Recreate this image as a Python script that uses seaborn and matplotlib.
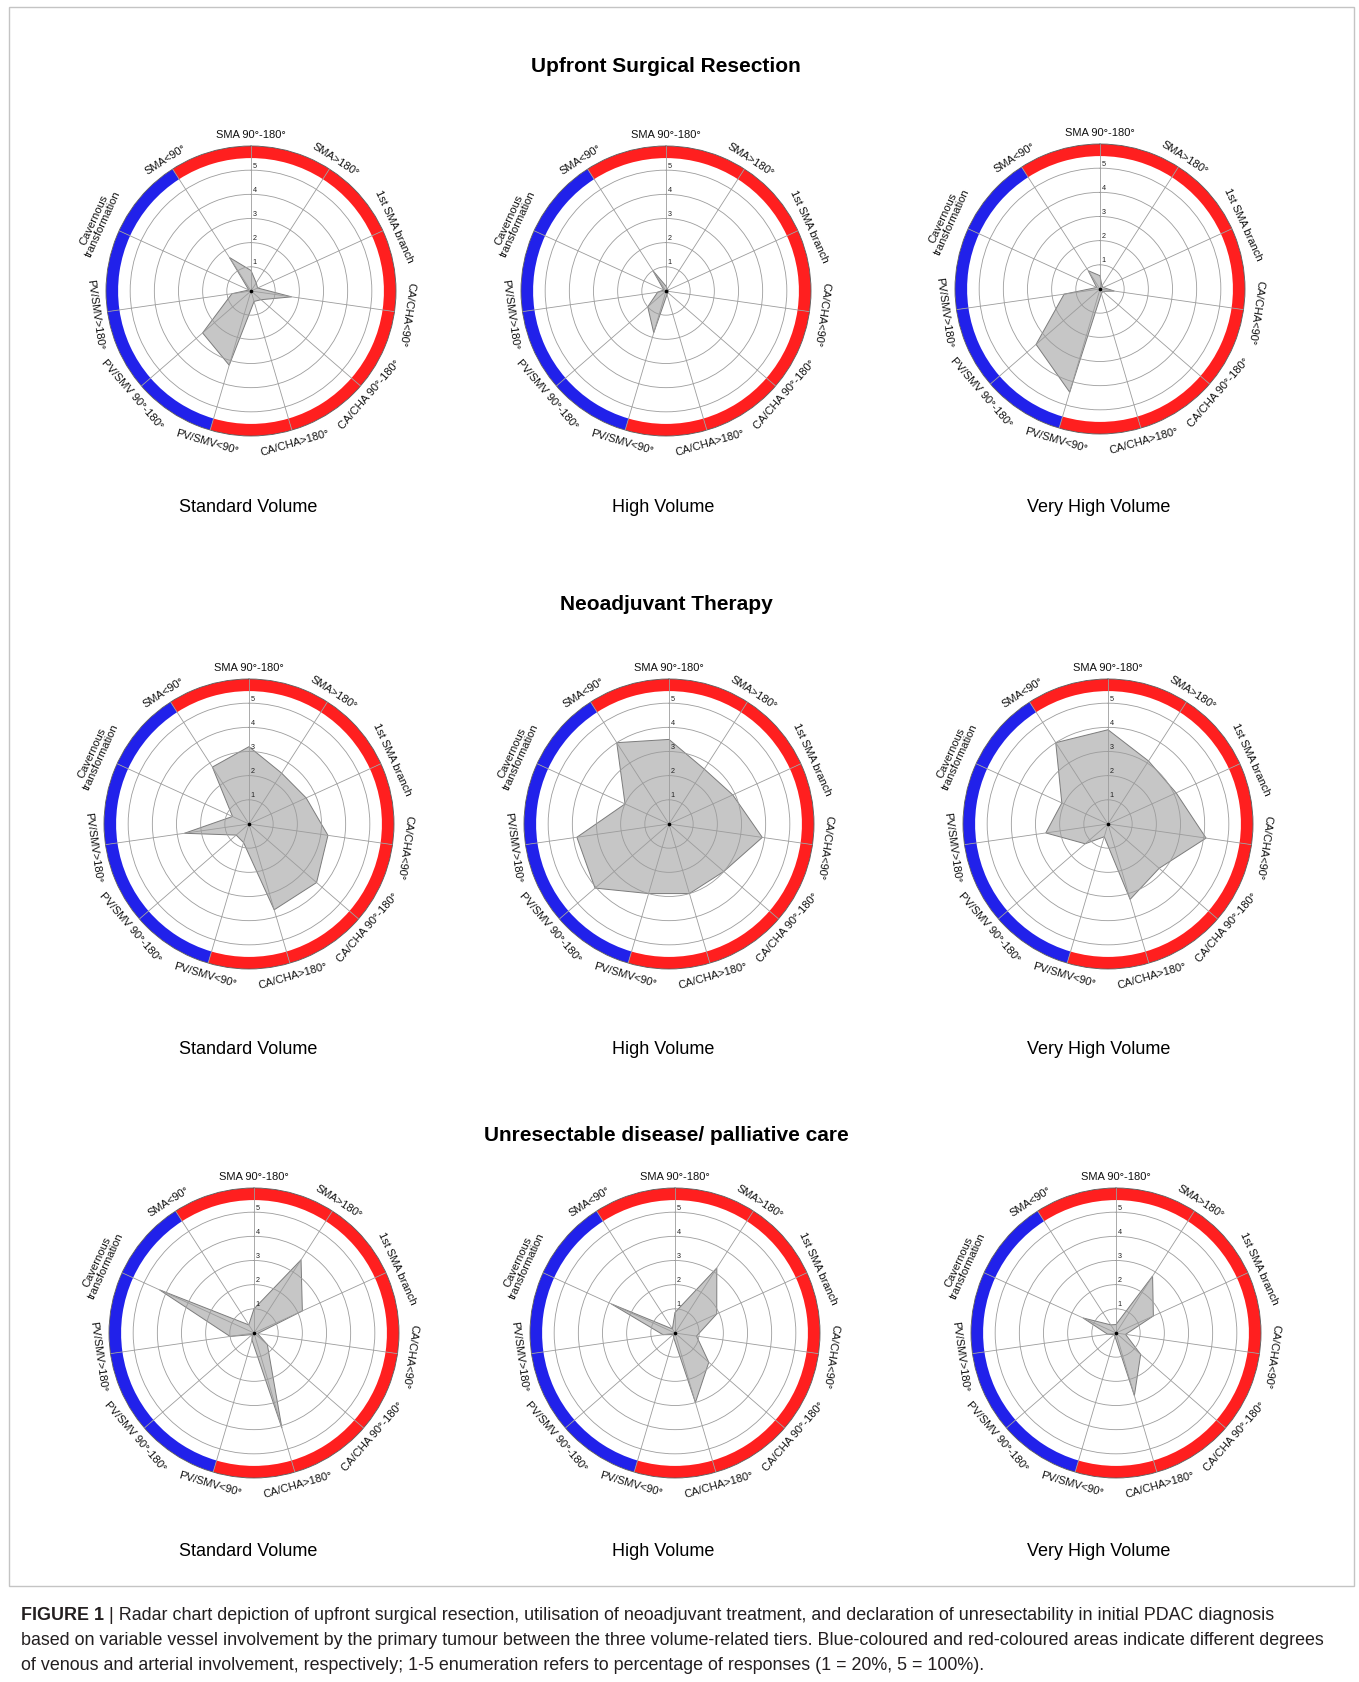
import numpy as np
import matplotlib
matplotlib.use("Agg")
import matplotlib.pyplot as plt
import seaborn as sns
from matplotlib.patches import Rectangle

# Vessel-involvement categories, clockwise from the top spoke
categories = [
    "SMA 90°-180°",
    "SMA>180°",
    "1st SMA branch",
    "CA/CHA<90°",
    "CA/CHA 90°-180°",
    "CA/CHA>180°",
    "PV/SMV<90°",
    "PV/SMV 90°-180°",
    "PV/SMV>180°",
    "Cavernous\ntransformation",
    "SMA<90°",
]

# Outer ring segment between spoke i and spoke i+1: arterial (red) or venous (blue)
segment_type = ["arterial"] * 6 + ["venous"] * 4 + ["arterial"]

volume_tiers = ["Standard Volume", "High Volume", "Very High Volume"]
panel_titles = ["Upfront Surgical Resection", "Neoadjuvant Therapy",
                "Unresectable disease/ palliative care"]

# Responses (1 = 20%, 5 = 100%)
upfront_standard = [0.85, 0.4, 0.3, 1.7, 0.55, 0.45, 3.2, 2.65, 0.8, 0.1, 1.65]
upfront_high = [0.2, 0.1, 0.1, 0.1, 0.1, 0.15, 1.8, 1.0, 0.35, 0.1, 1.0]
upfront_very_high = [0.55, 0.15, 0.15, 0.6, 0.15, 0.2, 4.45, 3.5, 1.5, 0.15, 0.9]

neoadjuvant_standard = [3.2, 2.5, 2.6, 3.3, 3.7, 3.7, 0.8, 0.7, 2.7, 0.75, 2.8]
neoadjuvant_high = [3.5, 2.7, 2.9, 3.9, 3.0, 3.0, 3.0, 4.05, 3.85, 2.0, 4.0]
neoadjuvant_very_high = [3.9, 3.1, 3.1, 4.1, 2.8, 3.25, 0.55, 1.25, 2.6, 2.1, 4.0]

unresectable_standard = [1.0, 3.6, 2.2, 0.15, 0.73, 4.1, 0.3, 0.1, 1.0, 4.3, 0.4]
unresectable_high = [0.85, 3.2, 1.9, 0.9, 1.85, 3.0, 0.2, 0.1, 0.5, 2.9, 0.2]
unresectable_very_high = [0.35, 2.8, 1.7, 0.4, 1.35, 2.7, 0.15, 0.1, 0.35, 1.5, 0.4]

ring_ticks = [1, 2, 3, 4, 5]

caption_lines = [
    ("FIGURE 1", " | Radar chart depiction of upfront surgical resection, utilisation of neoadjuvant "
     "treatment, and declaration of unresectability in initial PDAC diagnosis"),
    ("", "based on variable vessel involvement by the primary tumour between the three volume-related "
     "tiers. Blue-coloured and red-coloured areas indicate different degrees"),
    ("", "of venous and arterial involvement, respectively; 1-5 enumeration refers to percentage of "
     "responses (1 = 20%, 5 = 100%)."),
]

sns.set_theme(style="white")
plt.rcParams["font.family"] = ["Liberation Sans", "DejaVu Sans"]

W, H = 1359, 1683
fig = plt.figure(figsize=(W / 100, H / 100), dpi=100)

ring_colors = {"arterial": "#ff1f1f", "venous": "#2121ea"}
n = len(categories)
step = 2 * np.pi / n
theta = np.arange(n) * step


def radar(cx, cy, values, radius_px=145):
    ax = fig.add_axes([(cx - radius_px) / W, (H - cy - radius_px) / H,
                       2 * radius_px / W, 2 * radius_px / H], projection="polar")
    ax.set_theta_offset(np.pi / 2)
    ax.set_theta_direction(-1)
    ax.set_facecolor("white")

    # coloured outer ring
    ax.bar(theta + step / 2, 0.5, width=step, bottom=5.5,
           color=[ring_colors[s] for s in segment_type], edgecolor="none",
           linewidth=0, zorder=1)

    v = np.asarray(values, dtype=float)
    ax.fill(np.append(theta, theta[0]), np.append(v, v[0]),
            facecolor="#c6c6c6", edgecolor="#7c7c7c", linewidth=0.7, zorder=2)
    ax.plot([0], [0], marker="o", ms=1.6, color="black", zorder=4)

    ax.set_ylim(0, 6)
    ax.set_xticks(theta)
    ax.set_xticklabels([])
    ax.set_yticks(ring_ticks)
    ax.set_yticklabels([])
    ax.grid(True, color="#9c9c9c", linewidth=0.6)
    ax.set_axisbelow(False)
    ax.spines["polar"].set_color("#555555")
    ax.spines["polar"].set_linewidth(0.6)

    for r in ring_ticks:
        ax.annotate(str(r), xy=(0, r), xytext=(1.3, 1.0), textcoords="offset points",
                    fontsize=5.2, ha="left", va="bottom", color="#222222", zorder=5)

    for t, lab in zip(theta, categories):
        deg = np.degrees(t)
        rot = -deg
        while rot < -100:
            rot += 180
        r_lab = 6.95 if "\n" in lab else 6.5
        ax.text(t, r_lab, lab, rotation=rot, rotation_mode="anchor",
                ha="center", va="center", fontsize=8, linespacing=1.05,
                color="#111111", clip_on=False)
    return ax


rows = [
    dict(title_y=66, label_y=507,
         centers=[(251, 292), (666, 292), (1100, 290)],
         data=[upfront_standard, upfront_high, upfront_very_high]),
    dict(title_y=605, label_y=1050,
         centers=[(249, 825), (669, 825), (1108, 825)],
         data=[neoadjuvant_standard, neoadjuvant_high, neoadjuvant_very_high]),
    dict(title_y=1136, label_y=1552,
         centers=[(254, 1334), (675, 1334), (1116, 1334)],
         data=[unresectable_standard, unresectable_high, unresectable_very_high]),
]
label_x = [248, 663, 1099]

for row, title in zip(rows, panel_titles):
    fig.text(666 / W, 1 - row["title_y"] / H, title, ha="center", va="center",
             fontsize=15, fontweight="bold", color="black")
    for (cx, cy), vals, tier, lx in zip(row["centers"], row["data"], volume_tiers, label_x):
        radar(cx, cy, vals)
        fig.text(lx / W, 1 - row["label_y"] / H, tier, ha="center", va="center",
                 fontsize=13, color="black")

# frame around the panels
fig.add_artist(Rectangle((8.6 / W, 1 - 1586.6 / H), (1353.7 - 8.6) / W, (1586.6 - 7.5) / H,
                         transform=fig.transFigure, fill=False,
                         edgecolor="#c4c4c4", linewidth=1.0))

# caption
renderer = fig.canvas.get_renderer()
cap_y = [1616, 1641, 1666]
for (bold, rest), y in zip(caption_lines, cap_y):
    x = 21 / W
    if bold:
        tb = fig.text(x, 1 - y / H, bold, ha="left", va="center", fontsize=12.9,
                      fontweight="bold", color="#231f20")
        bb = tb.get_window_extent(renderer=renderer)
        x = bb.x1 / W
    fig.text(x, 1 - y / H, rest, ha="left", va="center", fontsize=12.9, color="#231f20")

fig.savefig("out.png", dpi=100, facecolor="white")
